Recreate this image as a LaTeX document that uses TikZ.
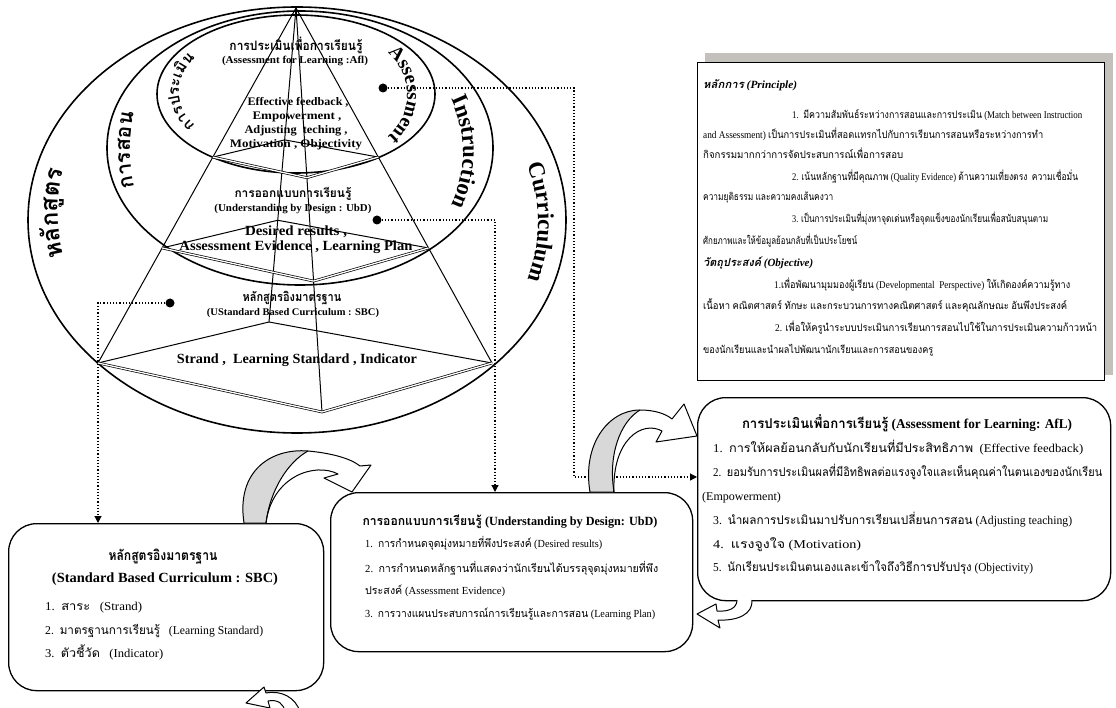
\documentclass[tikz,border=0pt]{standalone}
\usepackage{fontspec}
\usepackage{graphicx}
\setmainfont{Liberation Serif}
\newfontfamily\thaifont[Script=Thai,Scale=1.0]{Loma}
\usetikzlibrary{decorations.text,arrows.meta,calc}
\newcommand\fsz[1]{\fontsize{#1}{#1}\selectfont}
\newcommand\fitw[2]{\resizebox{#1pt}{\height}{#2}}
\XeTeXinterchartokenstate=1
\newXeTeXintercharclass\thaicls
\newcount\thc
\thc="0E00
\loop\XeTeXcharclass\thc=\thaicls\ifnum\thc<"0E7F \advance\thc by 1 \repeat
\XeTeXinterchartoks 0 \thaicls = {\thaifont}
\XeTeXinterchartoks 4095 \thaicls = {\thaifont}
\XeTeXinterchartoks \thaicls 0 = {\rmfamily}
\XeTeXinterchartoks \thaicls 4095 = {\rmfamily}
\definecolor{shadowgray}{RGB}{196,192,188}
\definecolor{agray}{RGB}{216,216,216}
\begin{document}
\begin{tikzpicture}[x=1pt,y=-1pt,
  ell/.style={line width=1.6pt},
  pyr/.style={line width=1pt},
  dbl/.style={double, double distance=1.3pt, line width=0.7pt, line join=round},
  dot/.style={circle, fill, inner sep=0pt, minimum size=9pt},
  dotcon/.style={dotted, line width=1.2pt},
  tipped/.style={-{Triangle[length=7pt,width=7pt]}},
  box/.style={draw, line width=1.3pt, rounded corners=28pt, fill=white, inner sep=0pt},
  pbox/.style={draw, line width=1.1pt, fill=white, inner sep=0pt},
  ptx/.style={inner sep=0pt, font=\bfseries},
  pl/.style={anchor=base west, inner sep=0pt, font=\fsz{10.3}},
  bl/.style={anchor=base west, inner sep=0pt, font=\fsz{12}},
  ul/.style={anchor=base west, inner sep=0pt, font=\fsz{10.8}},
  aline/.style={line width=1pt, line join=round},
  curv/.style={decorate, decoration={text along path, text align=center}}
]
\useasboundingbox (0,0) rectangle (1116,708);

% ---------- principle box ----------
\fill[shadowgray] (705,53) rectangle (1113,375);
\node[pbox, minimum width=407pt, minimum height=318pt, anchor=north west] (pbox) at (697,62) {};
\node[pl, font=\fsz{11}\bfseries\itshape] (p0) at (703,89) {\fitw{94}{หลักการ (Principle)}};
\node[pl] (p1) at (792,119) {\fitw{290}{1.\ \ มีความสัมพันธ์ระหว่างการสอนและการประเมิน (Match between Instruction}};
\node[pl] (p2) at (703,139) {\fitw{340}{and Assessment) เป็นการประเมินที่สอดแทรกไปกับการเรียนการสอนหรือระหว่างการทำ}};
\node[pl] (p3) at (703,159) {\fitw{200}{กิจกรรมมากกว่าการจัดประสบการณ์เพื่อการสอบ}};
\node[pl] (p4) at (792,181) {\fitw{286}{2. เน้นหลักฐานที่มีคุณภาพ (Quality Evidence) ด้านความเที่ยงตรง\ \ ความเชื่อมั่น}};
\node[pl] (p5) at (703,201) {\fitw{130}{ความยุติธรรม และความคงเส้นคงวา}};
\node[pl] (p6) at (792,223) {\fitw{256}{3. เป็นการประเมินที่มุ่งหาจุดเด่นหรือจุดแข็งของนักเรียนเพื่อสนับสนุนตาม}};
\node[pl] (p7) at (703,245) {\fitw{154}{ศักยภาพและให้ข้อมูลย้อนกลับที่เป็นประโยชน์}};
\node[pl, font=\fsz{11}\bfseries\itshape] (p8) at (703,267) {\fitw{110}{วัตถุประสงค์ (Objective)}};
\node[pl] (p9) at (774,289) {\fitw{296}{1.เพื่อพัฒนามุมมองผู้เรียน (Developmental\ \ Perspective) ให้เกิดองค์ความรู้ทาง}};
\node[pl] (p10) at (703,310) {\fitw{364}{เนื้อหา คณิตศาสตร์ ทักษะ และกระบวนการทางคณิตศาสตร์ และคุณลักษณะ อันพึงประสงค์}};
\node[pl] (p11) at (775,332) {\fitw{322}{2. เพื่อให้ครูนำระบบประเมินการเรียนการสอนไปใช้ในการประเมินความก้าวหน้า}};
\node[pl] (p12) at (703,353) {\fitw{230}{ของนักเรียนและนำผลไปพัฒนานักเรียนและการสอนของครู}};

% ---------- ellipses ----------
\draw[ell] (297,220) ellipse [x radius=269, y radius=213];
\draw[ell] (300,148) ellipse [x radius=193, y radius=137];
\draw[ell] (296,94) ellipse [x radius=139, y radius=79];

% ---------- pyramid ----------
\coordinate (P) at (296,8);
\coordinate (L) at (98,363);
\coordinate (B) at (269,322);
\coordinate (R) at (492,363);
\coordinate (F) at (322,412);
\draw[pyr] (P) -- (L);
\draw[pyr] (P) -- (R);
\draw[pyr] (P) -- (B);
\draw[pyr] (P) -- (F);
\foreach \t/\n in {0.42/a, 0.676/b, 1/c}{
  \coordinate (L\n) at ($(P)!\t!(L)$);
  \coordinate (B\n) at ($(P)!\t!(B)$);
  \coordinate (R\n) at ($(P)!\t!(R)$);
  \coordinate (F\n) at ($(P)!\t!(F)$);
  \draw[pyr] (L\n) -- (B\n) -- (R\n);
  \draw[dbl] (L\n) -- (F\n) -- (R\n);
}

% ---------- pyramid texts ----------
\node[ptx, font=\bfseries\fsz{13}] (t1) at (296,45) {\fitw{133}{การประเมินเพื่อการเรียนรู้}};
\node[ptx, font=\bfseries\fsz{10.5}] (t2) at (295,61) {\fitw{146}{(Assessment for Learning :Afl)}};
\node[ptx, font=\bfseries\fsz{11.5}] (t3) at (298,102) {\fitw{101}{Effective feedback ,}};
\node[ptx, font=\bfseries\fsz{11.5}] (t4) at (297,117) {\fitw{89}{Empowerment ,}};
\node[ptx, font=\bfseries\fsz{11.5}] (t5) at (296,131) {\fitw{103}{Adjusting\ \ teching ,}};
\node[ptx, font=\bfseries\fsz{11.5}] (t6) at (296,145) {\fitw{132}{Motivation , Objectivity}};
\node[ptx, font=\bfseries\fsz{12}] (t7) at (293,194) {\fitw{117}{การออกแบบการเรียนรู้}};
\node[ptx, font=\bfseries\fsz{10.5}] (t8) at (293,209) {\fitw{157}{(Understanding by Design : UbD)}};
\node[ptx, font=\bfseries\fsz{14}] (t9) at (296,232) {\fitw{102}{Desired results ,}};
\node[ptx, font=\bfseries\fsz{14}] (t10) at (296,247) {\fitw{233}{Assessment Evidence , Learning Plan}};
\node[ptx, font=\bfseries\fsz{12.5}] (t11) at (292,298) {\fitw{99}{หลักสูตรอิงมาตรฐาน}};
\node[ptx, font=\bfseries\fsz{10.2}] (t12) at (293,313) {\fitw{172}{(UStandard Based Curriculum : SBC)}};
\node[ptx, font=\bfseries\fsz{14}] (t13) at (297,360) {\fitw{240}{Strand ,\ \ Learning Standard , Indicator}};

% ---------- curved labels ----------
\path[curv, decoration={text={|\bfseries\fsz{19.5}|Assessment}}]
  (352,95) ++(-62:55) arc[start angle=-62, end angle=62, radius=55];
\path[curv, decoration={text={|\bfseries\fsz{23}|Instruction}}]
  (340,152) ++(-36:123) arc[start angle=-36, end angle=36, radius=123];
\path[curv, decoration={text={|\bfseries\fsz{23}|Curriculum}}]
  (371,222) ++(-28:167) arc[start angle=-28, end angle=28, radius=167];
\path[curv, decoration={text={|\bfseries\fsz{15.2}|การประเ{มิ}น}}]
  (222,92) ++(105:43) arc[start angle=105, end angle=255, radius=43];
\path[curv, decoration={text={|\bfseries\fsz{21}|การสอน}}]
  (292,150) ++(157:162) arc[start angle=157, end angle=203, radius=162];
\path[curv, decoration={text={|\bfseries\fsz{23.9}|ห{ลั}ก{สู}ตร}}]
  (233,213) ++(155:175) arc[start angle=155, end angle=205, radius=175];

% ---------- boxes ----------
\node[box, minimum width=315pt, minimum height=167pt, anchor=north west] (sbc) at (8,523) {};
\node[box, minimum width=362pt, minimum height=159pt, anchor=north west] (ubd) at (330,492) {};
\node[box, minimum width=413pt, minimum height=203pt, anchor=north west] (afl) at (697,397) {};

% SBC text
\node[ptx, font=\bfseries\fsz{14}] (s1) at (163,557) {\fitw{109}{หลักสูตรอิงมาตรฐาน}};
\node[ptx, font=\bfseries\fsz{14}] (s2) at (165,579) {\fitw{226}{(Standard Based Curriculum : SBC)}};
\node[bl] (s3) at (45,610) {\fitw{97}{1.\ \ สาระ\ \ \ (Strand)}};
\node[bl] (s4) at (45,634) {\fitw{218}{2.\ \ มาตรฐานการเรียนรู้\ \ \ (Learning Standard)}};
\node[bl] (s5) at (45,657) {\fitw{118}{3.\ \ ตัวชี้วัด\ \ \ (Indicator)}};

% UbD text
\node[ptx, font=\bfseries\fsz{12.5}] (u1) at (510,522) {\fitw{295}{การออกแบบการเรียนรู้ (Understanding by Design: UbD)}};
\node[ul] (u2) at (365,547) {\fitw{237}{1.\ \ การกำหนดจุดมุ่งหมายที่พึงประสงค์ (Desired results)}};
\node[ul] (u3) at (365,572) {\fitw{293}{2.\ \ การกำหนดหลักฐานที่แสดงว่านักเรียนได้บรรลุจุดมุ่งหมายที่พึง}};
\node[ul] (u4) at (365,594) {\fitw{140}{ประสงค์ (Assessment Evidence)}};
\node[ul] (u5) at (365,617) {\fitw{290}{3.\ \ การวางแผนประสบการณ์การเรียนรู้และการสอน (Learning Plan)}};

% AfL text
\node[ptx, font=\bfseries\fsz{13.5}] (a1) at (907,423) {\fitw{330}{การประเมินเพื่อการเรียนรู้ (Assessment for Learning: AfL)}};
\node[bl] (a2) at (713,452) {\fitw{370}{1.\ \ การให้ผลย้อนกลับกับนักเรียนที่มีประสิทธิภาพ\ \ (Effective feedback)}};
\node[bl] (a3) at (713,476) {\fitw{389}{2.\ \ ยอมรับการประเมินผลที่มีอิทธิพลต่อแรงจูงใจและเห็นคุณค่าในตนเองของนักเรียน}};
\node[bl] (a4) at (702,500) {(Empowerment)};
\node[bl] (a5) at (713,524) {\fitw{359}{3.\ \ นำผลการประเมินมาปรับการเรียนเปลี่ยนการสอน (Adjusting teaching)}};
\node[bl] (a6) at (713,548) {\fitw{148}{4.\ \ แรงจูงใจ (Motivation)}};
\node[bl] (a7) at (713,571) {\fitw{320}{5.\ \ นักเรียนประเมินตนเองและเข้าใจถึงวิธีการปรับปรุง (Objectivity)}};

% ---------- dots and dotted connectors ----------
\node[dot] (d1) at (383,88) {};
\node[dot] (d2) at (377,220) {};
\node[dot] (d3) at (170,303) {};
\coordinate (k1) at (574,88);
\coordinate (k2) at (574,477);
\coordinate (k3) at (495,220);
\coordinate (k4) at (98,303);
\draw[dotcon, tipped] (d1) -- (k1) -- (k2) -- (afl.west |- k2);
\draw[dotcon, tipped] (d2) -- (k3) -- (k3 |- ubd.north);
\draw[dotcon, tipped] (d3) -- (k4) -- (k4 |- sbc.north);

% ---------- curved block arrows ----------
% A: SBC -> UbD
\fill[white] (244,523) .. controls (236,470) and (272,448) .. (308,451) .. controls (330,453) and (350,458) .. (360,466) -- (371,465) -- (352,492) -- (324,478) -- (338,474) .. controls (315,462) and (272,476) .. (266,523) -- cycle;
\fill[agray] (244,523) .. controls (236,470) and (272,448) .. (308,451) .. controls (288,462) and (270,490) .. (266,523) -- cycle;
\draw[aline] (244,523) .. controls (236,470) and (272,448) .. (308,451) .. controls (330,453) and (350,458) .. (360,466) -- (371,465) -- (352,492) -- (324,478) -- (338,474) .. controls (315,462) and (272,476) .. (266,523) -- cycle;
\draw[aline] (308,451) .. controls (288,462) and (270,490) .. (266,523);
% B: UbD -> AfL
\fill[white] (590,492) .. controls (582,445) and (608,410) .. (640,410) .. controls (655,410) and (666,414) .. (672,419) -- (684,404) -- (697,436) -- (656,442) -- (662,431) .. controls (642,420) and (612,440) .. (614,492) -- cycle;
\fill[agray] (590,492) .. controls (582,445) and (608,410) .. (640,410) .. controls (620,422) and (608,455) .. (614,492) -- cycle;
\draw[aline] (590,492) .. controls (582,445) and (608,410) .. (640,410) .. controls (655,410) and (666,414) .. (672,419) -- (684,404) -- (697,436) -- (656,442) -- (662,431) .. controls (642,420) and (612,440) .. (614,492) -- cycle;
\draw[aline] (640,410) .. controls (620,422) and (608,455) .. (614,492);
% C: bottom, below SBC
\fill[white] (300,712) .. controls (296,698) and (282,690) .. (266,693) -- (264,687) -- (246,703) -- (270,708) -- (268,701) .. controls (278,699) and (284,704) .. (285,712) -- cycle;
\draw[aline] (300,712) .. controls (296,698) and (282,690) .. (266,693) -- (264,687) -- (246,703) -- (270,708) -- (268,701) .. controls (278,699) and (284,704) .. (285,712);
% D: bottom, AfL -> UbD
\fill[white] (752,600) .. controls (753,614) and (738,621) .. (718,620) -- (720,628) -- (697,614) -- (716,604) -- (717,611) .. controls (729,612) and (737,608) .. (737,600) -- cycle;
\draw[aline] (752,600) .. controls (753,614) and (738,621) .. (718,620) -- (720,628) -- (697,614) -- (716,604) -- (717,611) .. controls (729,612) and (737,608) .. (737,600);
\end{tikzpicture}
\end{document}
